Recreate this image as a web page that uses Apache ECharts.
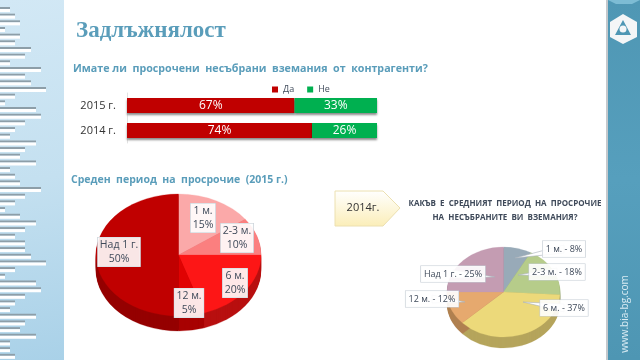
<!DOCTYPE html>
<html>
<head>
<meta charset="utf-8">
<style>
html,body{margin:0;padding:0;background:#fff}
#chart{width:640px;height:360px}
</style>
</head>
<body>
<div id="chart"></div>
<script src="https://cdn.jsdelivr.net/npm/echarts@6/dist/echarts.min.js"></script>
<script>
// stacked bars
var barYears = ['2015 г.', '2014 г.']
var barYes = [67, 74]
var barNo = [33, 26]

// 2015 pie
var names2015 = ['1 м.', '2-3 м.', '6 м.', '12 м.', 'Над 1 г.']
var values2015 = [15, 10, 20, 5, 50]
var colors2015 = ['#fba9a9', '#fb7f7f', '#fd1616', '#e00202', '#c00000']
var rim2015 = ['#c98080', '#c96060', '#b81010', '#a80202', '#950000']
var labelPos2015 = [[203, 218], [237, 238], [235, 283], [189, 303], [119, 252]]

// 2014 pie
var names2014 = ['1 м.', '2-3 м.', '6 м.', '12 м.', 'Над 1 г.']
var values2014 = [8, 18, 37, 12, 25]
var colors2014 = ['#98aab8', '#b6cc8a', '#ecd97a', '#e6a96e', '#c49cb2']
var rim2014 = ['#74838e', '#8b9c69', '#b5a55c', '#b08050', '#957788']
var labelPos2014 = [[564, 249], [557, 272], [564, 308], [432, 299], [453, 274]]
var tipPos2014 = [[515, 258], [518, 275], [523, 302], [465, 302], [495, 277]]

// left decoration, length of each strip
var stripWidths = [10, 15, 20, 5, 20, 15, 31, 25, 10, 41, 25, 31, 46, 15, 5, 36, 41, 25, 15, 10, 36, 25, 20, 36, 10, 15, 20, 41, 25, 15, 5, 20, 36, 25, 15, 25, 25, 31, 46, 15, 5, 36, 41, 25, 15, 10, 36, 25, 20, 36, 10, 10, 15]

var TITLE_BLUE = '#5a9dba'
var TEXT_DARK = '#3f4a5a'
var FONT = '"Open Sans","Noto Sans",sans-serif'

var myChart = echarts.init(document.getElementById('chart'), null, { renderer: 'canvas' })

// sector start/end for slice i, clockwise from 12 o'clock
var sliceAngles = function (values, i) {
  var total = values.reduce(function (a, b) { return a + b }, 0)
  var before = values.slice(0, i).reduce(function (a, b) { return a + b }, 0)
  return [
    -Math.PI / 2 + before / total * Math.PI * 2,
    -Math.PI / 2 + (before + values[i]) / total * Math.PI * 2
  ]
}

// the pies are tilted, so sectors are drawn squashed through a custom series
var pieSeries = function (values, colors, rims, cx, cy, rx, ry, depth) {
  var data = values.map(function (v) { return [v] })
  var sector = function (i, dy, fill) {
    var a = sliceAngles(values, i)
    return {
      type: 'sector',
      x: cx,
      y: cy + dy,
      scaleY: ry / rx,
      shape: { cx: 0, cy: 0, r: rx, r0: 0, startAngle: a[0], endAngle: a[1] },
      style: { fill: fill, stroke: fill, lineWidth: 0.3 }
    }
  }
  return [{
    type: 'custom',
    coordinateSystem: 'none',
    silent: true,
    z: 3,
    data: data,
    renderItem: function (params) {
      var children = []
      for (var d = depth; d > 0; d--) {
        children.push(sector(params.dataIndex, d, rims[params.dataIndex]))
      }
      return { type: 'group', children: children }
    }
  }, {
    type: 'custom',
    coordinateSystem: 'none',
    silent: true,
    z: 4,
    data: data,
    renderItem: function (params) {
      return sector(params.dataIndex, 0, colors[params.dataIndex])
    }
  }]
}

var labelSeries = function (values, texts, pos, tips, fontSize) {
  return {
    type: 'custom',
    coordinateSystem: 'none',
    silent: true,
    z: 5,
    data: values.map(function (v) { return [v] }),
    renderItem: function (params) {
      var i = params.dataIndex
      var children = []
      if (tips) {
        var tx = tips[i][0]
        var ty = tips[i][1]
        var bx = pos[i][0]
        var by = pos[i][1]
        children.push({
          type: 'polygon',
          shape: { points: [[tx, ty], [bx, by - 4], [bx, by + 4]] },
          style: { fill: '#fff', stroke: '#a8b0b8', lineWidth: 0.6 }
        })
      }
      children.push({
        type: 'text',
        x: pos[i][0],
        y: pos[i][1],
        style: {
          text: texts[i],
          align: 'center',
          verticalAlign: 'middle',
          fill: TEXT_DARK,
          fontSize: fontSize,
          fontFamily: FONT,
          lineHeight: fontSize + 3,
          backgroundColor: 'rgba(255,255,255,0.9)',
          borderColor: '#c4ccd4',
          borderWidth: 0.6,
          padding: tips ? [2, 3] : [1, 2]
        }
      })
      return { type: 'group', children: children }
    }
  }
}

// page decoration, no data in here
var decor = []
decor.push({
  type: 'rect',
  shape: { x: 0, y: 0, width: 64, height: 360 },
  style: { fill: new echarts.graphic.LinearGradient(0, 0, 1, 1, [
    { offset: 0, color: '#d2e8f5' },
    { offset: 0.5, color: '#c4e0f0' },
    { offset: 1, color: '#a9d1e8' }
  ]) },
  z: 0
})
stripWidths.forEach(function (w, i) {
  var y = 7 + i * 6.67
  decor.push({ type: 'rect', shape: { x: 0, y: y, width: w, height: 2 }, style: { fill: '#8d9ea8' }, z: 1 })
  decor.push({ type: 'rect', shape: { x: 0, y: y + 2, width: w, height: 3 }, style: { fill: '#ffffff' }, z: 1 })
})
decor.push({
  type: 'rect',
  shape: { x: 606, y: 0, width: 2, height: 360 },
  style: { fill: '#c4c8cc' },
  z: 1
})
decor.push({
  type: 'rect',
  shape: { x: 608, y: 0, width: 32, height: 360 },
  style: { fill: new echarts.graphic.LinearGradient(0, 0, 0, 1, [
    { offset: 0, color: '#4f97b4' },
    { offset: 0.5, color: '#569fbd' },
    { offset: 1, color: '#4e96b3' }
  ]) },
  z: 1
})
decor.push({
  type: 'polygon',
  shape: { points: [[608, 0], [640, 0], [632, 4], [616, 4]] },
  style: { fill: '#7dbcd4' },
  z: 2
})
// logo
decor.push({
  type: 'polygon',
  shape: { points: [[623, 14], [637, 22], [637, 37], [623, 44], [610, 37], [610, 22]] },
  style: { fill: '#f4f6f7' },
  z: 2
})
decor.push({
  type: 'polygon',
  shape: { points: [[623, 20], [631, 35], [615, 35]] },
  style: { fill: '#4f97b4' },
  z: 3
})
decor.push({
  type: 'circle',
  shape: { cx: 623, cy: 29, r: 3.5 },
  style: { fill: '#f4f6f7' },
  z: 4
})
decor.push({
  type: 'text',
  x: 625,
  y: 314,
  rotation: Math.PI / 2,
  style: { text: 'www.bia-bg.com', fill: '#d8ebf3', fontSize: 10, fontFamily: FONT, align: 'center', verticalAlign: 'middle' },
  z: 3
})

// headings
decor.push({
  type: 'text', x: 76, y: 31,
  style: { text: 'Задлъжнялост', fill: TITLE_BLUE, fontSize: 23, fontWeight: 'bold', fontFamily: '"Liberation Serif",serif', verticalAlign: 'middle' },
  z: 3
})
decor.push({
  type: 'text', x: 73, y: 69,
  style: { text: 'Имате ли  просрочени  несъбрани  вземания  от  контрагенти?', fill: TITLE_BLUE, fontSize: 10.7, fontWeight: 'bold', fontFamily: FONT, verticalAlign: 'middle' },
  z: 3
})
decor.push({
  type: 'text', x: 71, y: 180,
  style: { text: 'Среден  период  на  просрочие  (2015 г.)', fill: TITLE_BLUE, fontSize: 10.5, fontWeight: 'bold', fontFamily: FONT, verticalAlign: 'middle' },
  z: 3
})
decor.push({
  type: 'polygon',
  shape: { points: [[335, 191], [383, 191], [400, 208], [383, 226], [335, 226]] },
  style: {
    fill: new echarts.graphic.LinearGradient(0, 0, 0, 1, [
      { offset: 0, color: '#ffffff' },
      { offset: 1, color: '#fbeeb8' }
    ]),
    stroke: '#ece0b0',
    lineWidth: 1
  },
  z: 3
})
decor.push({
  type: 'text', x: 363, y: 208,
  style: { text: '2014г.', fill: '#333', fontSize: 11, fontFamily: FONT, align: 'center', verticalAlign: 'middle' },
  z: 4
})
decor.push({
  type: 'text', x: 505, y: 211,
  style: { text: 'КАКЪВ  Е  СРЕДНИЯТ  ПЕРИОД  НА  ПРОСРОЧИЕ\nНА  НЕСЪБРАНИТЕ  ВИ  ВЗЕМАНИЯ?', fill: TEXT_DARK, fontSize: 8, fontWeight: 'bold', lineHeight: 14, fontFamily: FONT, align: 'center', verticalAlign: 'middle' },
  z: 4
})

var barLabel = {
  show: true,
  position: 'inside',
  color: '#fff',
  fontSize: 12,
  fontFamily: FONT,
  formatter: '{c}%'
}
var barShadow = { shadowColor: 'rgba(0,0,0,0.45)', shadowBlur: 2, shadowOffsetY: 1.5 }

var labels2015 = names2015.map(function (n, i) { return n + '\n' + values2015[i] + '%' })
var labels2014 = names2014.map(function (n, i) { return n + ' - ' + values2014[i] + '%' })

var options = {
  backgroundColor: '#fff',
  animation: false,
  graphic: { elements: decor },
  legend: {
    data: ['Да', 'Не'],
    left: 267,
    top: 80,
    itemWidth: 6,
    itemHeight: 6,
    itemGap: 13,
    icon: 'rect',
    textStyle: { fontSize: 9, color: TEXT_DARK, fontFamily: FONT }
  },
  grid: { left: 127, top: 93, width: 250, height: 50 },
  xAxis: { type: 'value', min: 0, max: 100, show: false },
  yAxis: {
    type: 'category',
    inverse: true,
    data: barYears,
    axisLine: { show: true, lineStyle: { color: '#e2e2e2' } },
    axisTick: { show: false },
    axisLabel: { color: '#333', fontSize: 11, fontFamily: FONT, margin: 11 }
  },
  series: [{
    name: 'Да',
    type: 'bar',
    stack: 'a',
    barWidth: 15,
    data: barYes,
    label: barLabel,
    itemStyle: Object.assign({ color: '#c00000' }, barShadow)
  }, {
    name: 'Не',
    type: 'bar',
    stack: 'a',
    barWidth: 15,
    data: barNo,
    label: barLabel,
    itemStyle: Object.assign({ color: '#00b050' }, barShadow)
  }]
    .concat(pieSeries(values2015, colors2015, rim2015, 178.5, 255, 82.5, 61, 15))
    .concat(pieSeries(values2014, colors2014, rim2014, 503.5, 292, 56.5, 45, 11))
    .concat([
      labelSeries(values2015, labels2015, labelPos2015, null, 10.5),
      labelSeries(values2014, labels2014, labelPos2014, tipPos2014, 9)
    ])
}
myChart.setOption(options)
</script>
</body>
</html>
